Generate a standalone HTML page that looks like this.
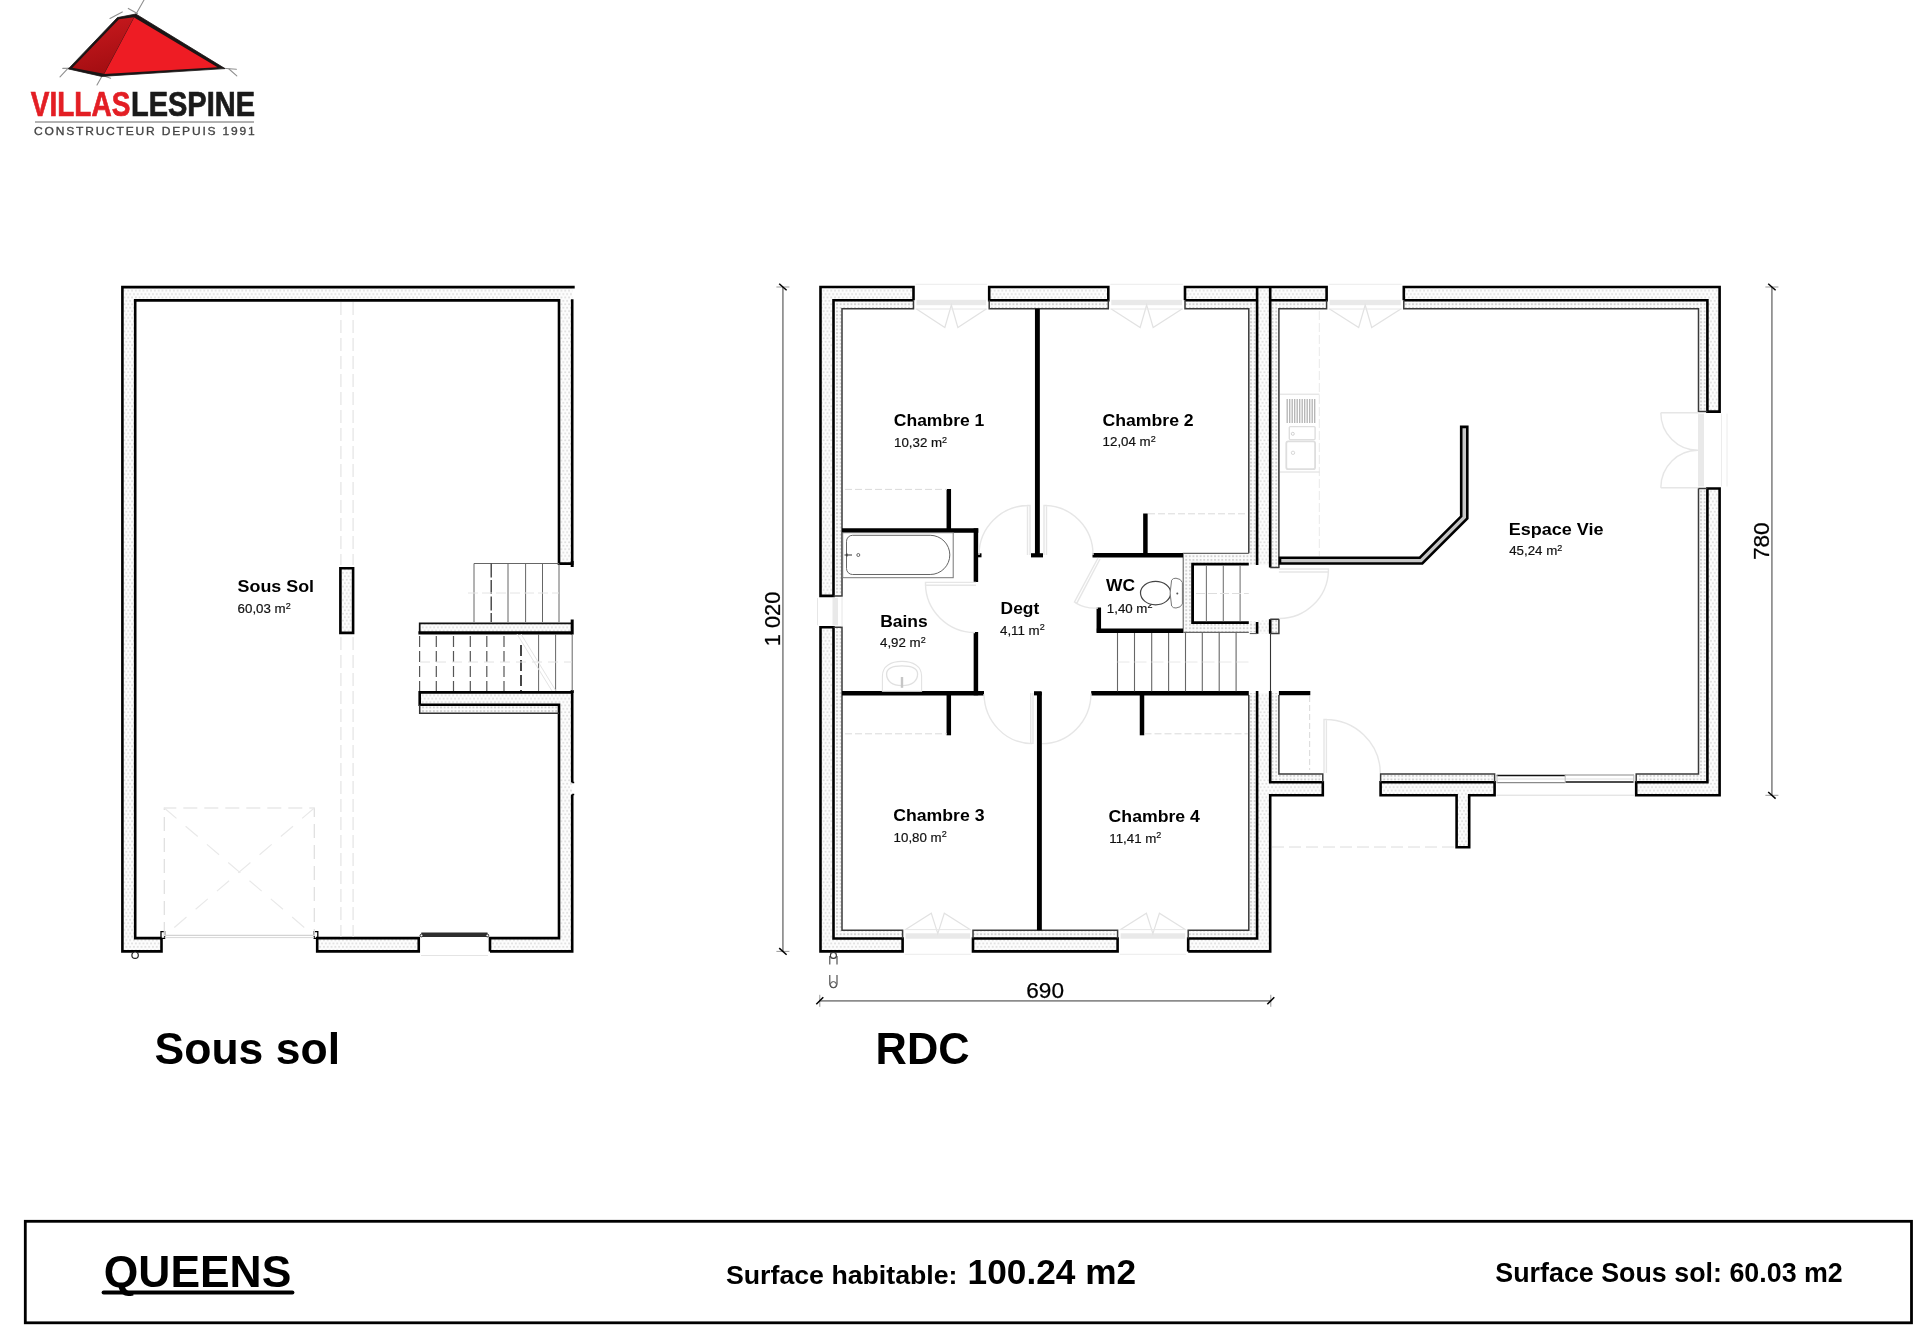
<!DOCTYPE html>
<html lang="fr"><head><meta charset="utf-8"><title>QUEENS - Villas Lespine</title>
<style>
html,body{margin:0;padding:0;background:#fff;}
body{width:1920px;height:1338px;overflow:hidden;}
svg{display:block;will-change:transform;font-family:"Liberation Sans",sans-serif;}
</style></head><body>
<svg width="1920" height="1338" viewBox="0 0 1920 1338">
<defs>
<pattern id="h" width="3.8" height="6.8" patternUnits="userSpaceOnUse">
<rect width="3.8" height="6.8" fill="#fdfdfd"/>
<circle cx="0.95" cy="1.7" r="0.9" fill="#d9d9d9"/><circle cx="2.85" cy="5.1" r="0.9" fill="#d9d9d9"/>
</pattern>
<pattern id="i" width="3.6" height="3.6" patternUnits="userSpaceOnUse">
<rect width="3.6" height="3.6" fill="#fcfcfc"/>
<rect x="0.9" y="0.9" width="1.9" height="1.9" fill="#d2d2d2"/>
</pattern>
<linearGradient id="gd" x1="0" y1="0" x2="0.3" y2="1"><stop offset="0" stop-color="#cc1a1f"/><stop offset="1" stop-color="#a50e12"/></linearGradient>
</defs>
<rect width="1920" height="1338" fill="#fff"/>

<g id="logo">
<line x1="144.00" y1="0.00" x2="135.50" y2="15.00" stroke="#909090" stroke-width="1.1" stroke-linecap="round"/>
<line x1="128.30" y1="8.40" x2="137.40" y2="13.50" stroke="#909090" stroke-width="1.1" stroke-linecap="round"/>
<line x1="110.00" y1="18.40" x2="122.30" y2="11.90" stroke="#909090" stroke-width="1.1" stroke-linecap="round"/>
<line x1="60.00" y1="76.80" x2="68.20" y2="68.20" stroke="#909090" stroke-width="1.1" stroke-linecap="round"/>
<line x1="62.80" y1="68.40" x2="72.00" y2="68.30" stroke="#909090" stroke-width="1.1" stroke-linecap="round"/>
<line x1="97.00" y1="85.00" x2="102.60" y2="75.00" stroke="#909090" stroke-width="1.1" stroke-linecap="round"/>
<line x1="101.00" y1="75.00" x2="110.60" y2="78.30" stroke="#909090" stroke-width="1.1" stroke-linecap="round"/>
<line x1="223.00" y1="68.30" x2="236.40" y2="69.30" stroke="#909090" stroke-width="1.1" stroke-linecap="round"/>
<line x1="229.00" y1="69.00" x2="236.80" y2="75.80" stroke="#909090" stroke-width="1.1" stroke-linecap="round"/>
<polygon points="135.8,14 117.4,17.6 68.3,68.9 101.6,76.4 225,68.6" fill="#1b1515" stroke="#1b1515" stroke-width="0.8" stroke-linejoin="round"/>
<polygon points="119,19.3 134,17.3 104,73.8 72.4,67.8" fill="url(#gd)"/>
<polygon points="134.2,17.4 104.2,73.9 217.5,67.3" fill="#ee1c24"/>
<text x="30.8" y="115.9" font-size="34.2" font-weight="bold" fill="#e31e24" textLength="99.5" lengthAdjust="spacingAndGlyphs" stroke="#e31e24" stroke-width="0.7">VILLAS</text>
<text x="131" y="115.9" font-size="34.2" font-weight="bold" fill="#1a1a1a" textLength="124" lengthAdjust="spacingAndGlyphs" stroke="#1a1a1a" stroke-width="0.7">LESPINE</text>
<line x1="35.00" y1="122.00" x2="254.00" y2="122.00" stroke="#999" stroke-width="1.3" />
<text x="34" y="134.6" font-size="10.3" fill="#444" textLength="222.5" lengthAdjust="spacingAndGlyphs" letter-spacing="1.55" stroke="#444" stroke-width="0.3">CONSTRUCTEUR DEPUIS 1991</text>
</g>
<g id="soussol">
<rect x="122.40" y="287.10" width="12.80" height="664.30" fill="url(#h)"/>
<rect x="122.40" y="287.10" width="449.80" height="13.30" fill="url(#h)"/>
<rect x="559.00" y="287.10" width="13.20" height="276.50" fill="url(#h)"/>
<rect x="122.40" y="938.10" width="39.10" height="13.30" fill="url(#h)"/>
<rect x="317.20" y="938.10" width="101.55" height="13.30" fill="url(#h)"/>
<rect x="490.00" y="938.10" width="82.20" height="13.30" fill="url(#h)"/>
<rect x="559.00" y="692.40" width="13.20" height="259.00" fill="url(#h)"/>
<rect x="419.70" y="623.20" width="152.50" height="9.30" fill="url(#h)"/>
<rect x="419.70" y="692.40" width="152.50" height="12.30" fill="url(#h)"/>
<rect x="419.70" y="704.70" width="139.30" height="8.60" fill="url(#i)"/>
<rect x="340.40" y="568.20" width="12.70" height="64.70" fill="url(#h)"/>
<path d="M161.5,938.1 V951.4 H122.4 V287.1 H574.7" fill="none" stroke="#000" stroke-width="2.6" />
<path d="M161.5,938.1 H135.2 V300.4 H559.0 V563.6 H572.2 V299.2" fill="none" stroke="#000" stroke-width="2.6" />
<path d="M317.2,938.1 H418.75 V951.4 H317.2 Z" fill="none" stroke="#000" stroke-width="2.6" />
<path d="M490,951.4 V938.1 H559.0 V704.7 H419.7 V692.4 H572.2 V782.5 M572.2,794.5 V951.4 H490" fill="none" stroke="#000" stroke-width="2.6" />
<path d="M572.2,782.5 h2 M572.2,794.5 h2" fill="none" stroke="#000" stroke-width="1.6" />
<path d="M572.2,690 v3" fill="none" stroke="#000" stroke-width="3" />
<path d="M419.7,704.7 V713.3 H559.0" fill="none" stroke="#333" stroke-width="1.5" />
<path d="M419.7,632.9 V623.4 H572.2" fill="none" stroke="#111" stroke-width="1.7" />
<path d="M418.4,632.9 H572.2" fill="none" stroke="#000" stroke-width="3.1" />
<path d="M572.2,619.5 V634.5" fill="none" stroke="#000" stroke-width="3" />
<path d="M572.2,561 V567" fill="none" stroke="#000" stroke-width="3" />
<path d="M340.4,568.2 H353.1 V632.9 H340.4 Z" fill="none" stroke="#000" stroke-width="2.6" />
<path d="M161,931.7 h3.6 v6.6 h-3.6 Z" fill="none" stroke="#000" stroke-width="1.3" />
<path d="M314.2,931.7 h3.6 v6.6 h-3.6 Z" fill="none" stroke="#000" stroke-width="1.3" />
<line x1="164.60" y1="935.30" x2="314.20" y2="935.30" stroke="#c8c8c8" stroke-width="1" />
<line x1="164.60" y1="937.60" x2="314.20" y2="937.60" stroke="#d8d8d8" stroke-width="1" />
<circle cx="135.1" cy="955.2" r="3.2" fill="#fff" stroke="#222" stroke-width="1.2"/>
<path d="M164.3,936 V808 H314.3 V936" fill="none" stroke="#dedede" stroke-width="1.2" stroke-dasharray="14 7"/>
<path d="M164.3,808 L314.3,936 M314.3,808 L164.3,936" fill="none" stroke="#e9e9e9" stroke-width="1.2" stroke-dasharray="16 12"/>
<line x1="340.90" y1="302.00" x2="340.90" y2="565.00" stroke="#e4e4e4" stroke-width="1.2" stroke-dasharray="13 5"/>
<line x1="340.90" y1="637.00" x2="340.90" y2="937.00" stroke="#e4e4e4" stroke-width="1.2" stroke-dasharray="13 5"/>
<line x1="353.10" y1="302.00" x2="353.10" y2="565.00" stroke="#e4e4e4" stroke-width="1.2" stroke-dasharray="13 5"/>
<line x1="353.10" y1="637.00" x2="353.10" y2="937.00" stroke="#e4e4e4" stroke-width="1.2" stroke-dasharray="13 5"/>
<line x1="421.30" y1="934.70" x2="487.50" y2="934.70" stroke="#2e2e2e" stroke-width="4.4" />
<circle cx="421.5" cy="935.5" r="1.4" fill="#fff" stroke="#222" stroke-width="1"/><circle cx="487.3" cy="935.5" r="1.4" fill="#fff" stroke="#222" stroke-width="1"/>
<line x1="421.00" y1="955.50" x2="488.00" y2="955.50" stroke="#e4e4e4" stroke-width="1" />
<path d="M474,622 V563.5 H559" fill="none" stroke="#666" stroke-width="1" />
<line x1="508.00" y1="563.50" x2="508.00" y2="622.00" stroke="#666" stroke-width="1" />
<line x1="525.60" y1="563.50" x2="525.60" y2="622.00" stroke="#666" stroke-width="1" />
<line x1="542.50" y1="563.50" x2="542.50" y2="622.00" stroke="#666" stroke-width="1" />
<line x1="559.00" y1="563.50" x2="559.00" y2="622.00" stroke="#666" stroke-width="1" />
<line x1="491.20" y1="563.50" x2="491.20" y2="622.00" stroke="#333" stroke-width="1.3" stroke-dasharray="14 2.5"/>
<line x1="468.00" y1="593.00" x2="559.00" y2="593.00" stroke="#e4e4e4" stroke-width="1" stroke-dasharray="10 4"/>
<line x1="419.60" y1="636.00" x2="419.60" y2="691.00" stroke="#555" stroke-width="1.2" stroke-dasharray="11 4"/>
<line x1="436.30" y1="636.00" x2="436.30" y2="691.00" stroke="#555" stroke-width="1.2" stroke-dasharray="11 4"/>
<line x1="453.50" y1="636.00" x2="453.50" y2="691.00" stroke="#555" stroke-width="1.2" stroke-dasharray="11 4"/>
<line x1="470.30" y1="636.00" x2="470.30" y2="691.00" stroke="#555" stroke-width="1.2" stroke-dasharray="11 4"/>
<line x1="486.80" y1="636.00" x2="486.80" y2="691.00" stroke="#555" stroke-width="1.2" stroke-dasharray="11 4"/>
<line x1="504.00" y1="636.00" x2="504.00" y2="691.00" stroke="#555" stroke-width="1.2" stroke-dasharray="11 4"/>
<line x1="521.00" y1="645.00" x2="521.00" y2="691.00" stroke="#333" stroke-width="1.8" stroke-dasharray="11 4"/>
<line x1="538.60" y1="634.00" x2="538.60" y2="691.00" stroke="#666" stroke-width="1" />
<line x1="555.60" y1="634.00" x2="555.60" y2="691.00" stroke="#666" stroke-width="1" />
<line x1="572.20" y1="634.00" x2="572.20" y2="691.00" stroke="#666" stroke-width="1" />
<line x1="420.00" y1="662.00" x2="572.00" y2="662.00" stroke="#e2e2e2" stroke-width="1" stroke-dasharray="10 6"/>
<path d="M521,634 L556,691 M517,634 L552,691" fill="none" stroke="#e4e4e4" stroke-width="1" />
<text x="237.6" y="592.3" font-size="17.4" font-weight="bold" fill="#000" textLength="76.5" lengthAdjust="spacingAndGlyphs" >Sous Sol</text>
<text x="237.6" y="613.3" font-size="13.3" fill="#111" stroke="#111" stroke-width="0.2">60,03 m<tspan font-size="9.0" dy="-4.4">2</tspan></text>
</g>
<g id="rdc">
<rect x="820.50" y="287.00" width="93.00" height="13.30" fill="url(#h)"/>
<rect x="989.20" y="287.00" width="119.10" height="13.30" fill="url(#h)"/>
<rect x="1185.00" y="287.00" width="141.60" height="13.30" fill="url(#h)"/>
<rect x="1403.80" y="287.00" width="315.80" height="13.30" fill="url(#h)"/>
<rect x="820.50" y="287.00" width="13.00" height="308.90" fill="url(#h)"/>
<rect x="820.50" y="627.30" width="13.00" height="324.10" fill="url(#h)"/>
<rect x="820.50" y="938.50" width="82.10" height="12.90" fill="url(#h)"/>
<rect x="973.00" y="938.50" width="144.60" height="12.90" fill="url(#h)"/>
<rect x="1188.20" y="938.50" width="82.00" height="12.90" fill="url(#h)"/>
<rect x="1257.10" y="287.00" width="13.10" height="278.00" fill="url(#h)"/>
<rect x="1257.10" y="620.50" width="13.10" height="13.00" fill="url(#h)"/>
<rect x="1257.10" y="693.00" width="13.10" height="258.40" fill="url(#h)"/>
<rect x="1707.40" y="287.00" width="12.20" height="124.60" fill="url(#h)"/>
<rect x="1707.40" y="488.50" width="12.20" height="306.70" fill="url(#h)"/>
<rect x="1270.20" y="782.20" width="52.60" height="13.00" fill="url(#h)"/>
<rect x="1380.60" y="782.20" width="114.00" height="13.00" fill="url(#h)"/>
<rect x="1636.20" y="782.20" width="83.40" height="13.00" fill="url(#h)"/>
<rect x="1456.60" y="795.20" width="12.60" height="52.00" fill="url(#h)"/>
<rect x="833.50" y="300.30" width="80.00" height="8.40" fill="url(#i)"/>
<rect x="989.20" y="300.30" width="119.10" height="8.40" fill="url(#i)"/>
<rect x="1185.00" y="300.30" width="72.10" height="8.40" fill="url(#i)"/>
<rect x="833.50" y="300.30" width="8.50" height="295.60" fill="url(#i)"/>
<rect x="833.50" y="627.30" width="8.50" height="311.20" fill="url(#i)"/>
<rect x="833.50" y="930.30" width="69.10" height="8.20" fill="url(#i)"/>
<rect x="973.00" y="930.30" width="144.60" height="8.20" fill="url(#i)"/>
<rect x="1188.20" y="930.30" width="68.90" height="8.20" fill="url(#i)"/>
<rect x="1248.80" y="300.30" width="8.30" height="264.70" fill="url(#i)"/>
<rect x="1248.80" y="693.00" width="8.30" height="245.50" fill="url(#i)"/>
<rect x="1248.80" y="621.50" width="8.30" height="10.80" fill="url(#i)"/>
<rect x="1270.20" y="300.30" width="8.70" height="267.20" fill="url(#i)"/>
<rect x="1270.20" y="619.30" width="8.70" height="14.20" fill="url(#i)"/>
<rect x="1270.20" y="693.00" width="8.70" height="89.20" fill="url(#i)"/>
<rect x="1270.20" y="300.30" width="56.40" height="8.40" fill="url(#i)"/>
<rect x="1403.80" y="300.30" width="303.60" height="8.40" fill="url(#i)"/>
<rect x="1698.50" y="300.30" width="8.90" height="111.30" fill="url(#i)"/>
<rect x="1698.50" y="488.50" width="8.90" height="293.70" fill="url(#i)"/>
<rect x="1270.20" y="774.00" width="52.60" height="8.20" fill="url(#i)"/>
<rect x="1380.60" y="774.00" width="114.00" height="8.20" fill="url(#i)"/>
<rect x="1636.20" y="774.00" width="71.20" height="8.20" fill="url(#i)"/>
<rect x="1183.00" y="553.30" width="65.80" height="10.20" fill="url(#i)"/>
<rect x="1183.00" y="553.30" width="8.20" height="79.00" fill="url(#i)"/>
<rect x="1183.00" y="623.50" width="65.80" height="8.80" fill="url(#i)"/>
<path d="M913.5,300.3 V287.0 H820.5 V595.9 H833.5 V300.3 H913.5" fill="none" stroke="#000" stroke-width="2.6" />
<path d="M989.2,287.0 H1108.3 V300.3 H989.2 Z" fill="none" stroke="#000" stroke-width="2.6" />
<path d="M1185.0,300.3 V287.0 H1326.6 V300.3 H1270.2 M1257.1,300.3 H1185.0" fill="none" stroke="#000" stroke-width="2.6" />
<path d="M1403.8,300.3 V287.0 H1719.6 V411.6 H1707.4 V300.3 H1403.8" fill="none" stroke="#000" stroke-width="2.6" />
<path d="M1257.1,287.0 V565 M1270.2,287.0 V567.6" fill="none" stroke="#000" stroke-width="2.6" />
<path d="M1257.1,622 V633.7 M1270.2,619.2 V633.7" fill="none" stroke="#000" stroke-width="2.6" />
<line x1="1270.50" y1="633.70" x2="1270.50" y2="691.00" stroke="#333" stroke-width="1.1" />
<path d="M820.5,627.3 H833.5 V938.5 H902.6 V951.4 H820.5 Z" fill="none" stroke="#000" stroke-width="2.6" />
<path d="M973.0,938.5 H1117.6 V951.4 H973.0 Z" fill="none" stroke="#000" stroke-width="2.6" />
<path d="M1188.2,951.4 V938.5 H1257.1 V691 M1270.2,691 V782.2 H1322.8 V795.2 H1270.2 V951.4 H1188.2" fill="none" stroke="#000" stroke-width="2.6" />
<path d="M1380.6,782.2 H1494.6 V795.2 H1469.2 V847.2 H1456.6 V795.2 H1380.6 Z" fill="none" stroke="#000" stroke-width="2.6" />
<path d="M1636.2,795.2 V782.2 H1707.4 V488.5 H1719.6 V795.2 Z" fill="none" stroke="#000" stroke-width="2.6" />
<path d="M913.5,300.3 V308.7 H842.0 V595.9 H833.5" fill="none" stroke="#3a3a3a" stroke-width="1.5" />
<path d="M989.2,300.3 V308.7 H1108.3 V300.3" fill="none" stroke="#3a3a3a" stroke-width="1.5" />
<path d="M1185.0,300.3 V308.7 H1248.8 V553.3" fill="none" stroke="#3a3a3a" stroke-width="1.5" />
<path d="M833.5,627.3 H842.0 V930.3 H902.6 V938.5" fill="none" stroke="#3a3a3a" stroke-width="1.5" />
<path d="M973.0,938.5 V930.3 H1117.6 V938.5" fill="none" stroke="#3a3a3a" stroke-width="1.5" />
<path d="M1188.2,938.5 V930.3 H1248.8 V695" fill="none" stroke="#3a3a3a" stroke-width="1.5" />
<path d="M1326.6,300.3 V308.7 H1278.9 V567.6 H1270.2" fill="none" stroke="#3a3a3a" stroke-width="1.5" />
<path d="M1403.8,300.3 V308.7 H1698.5 V411.6 H1707.4" fill="none" stroke="#3a3a3a" stroke-width="1.5" />
<path d="M1707.4,488.5 H1698.5 V774.0 H1636.2 V782.2" fill="none" stroke="#3a3a3a" stroke-width="1.5" />
<path d="M1494.6,782.2 V774.0 H1380.6 V782.2" fill="none" stroke="#3a3a3a" stroke-width="1.5" />
<path d="M1322.8,782.2 V774.0 H1278.9 V695" fill="none" stroke="#3a3a3a" stroke-width="1.5" />
<path d="M1270.2,619.3 H1278.9 V633.6 H1270.2" fill="none" stroke="#3a3a3a" stroke-width="1.5" />
<path d="M1257.1,633.6 H1249.8" fill="none" stroke="#555" stroke-width="1.0" />
<path d="M1248.8,553.4 H1183.2 V632.4 H1248.8" fill="none" stroke="#666" stroke-width="1.1" />
<path d="M1037.4,308.7 V556" fill="none" stroke="#000" stroke-width="4.9" stroke-linecap="butt"/>
<path d="M1031,555.3 H1043" fill="none" stroke="#000" stroke-width="4.2" stroke-linecap="butt"/>
<path d="M948.8,489 V530.5" fill="none" stroke="#000" stroke-width="4.5" stroke-linecap="butt"/>
<path d="M842.0,530.5 H978.3" fill="none" stroke="#000" stroke-width="4.5" stroke-linecap="butt"/>
<path d="M975.9,528.3 V582" fill="none" stroke="#000" stroke-width="4.5" stroke-linecap="butt"/>
<path d="M976,555.3 H981.5" fill="none" stroke="#000" stroke-width="4" stroke-linecap="butt"/>
<path d="M975.9,632 V695.3" fill="none" stroke="#000" stroke-width="4.5" stroke-linecap="butt"/>
<path d="M842.0,693.3 H984" fill="none" stroke="#000" stroke-width="4.5" stroke-linecap="butt"/>
<path d="M948.8,693 V735.3" fill="none" stroke="#000" stroke-width="4.5" stroke-linecap="butt"/>
<path d="M1039.4,692 V930.3" fill="none" stroke="#000" stroke-width="4.9" stroke-linecap="butt"/>
<path d="M1034,693.3 H1041.6" fill="none" stroke="#000" stroke-width="4.2" stroke-linecap="butt"/>
<path d="M1092.5,555.3 H1183" fill="none" stroke="#000" stroke-width="4.5" stroke-linecap="butt"/>
<path d="M1145.4,513.5 V555.3" fill="none" stroke="#000" stroke-width="4.5" stroke-linecap="butt"/>
<path d="M1098.8,607.5 V632.8" fill="none" stroke="#000" stroke-width="4.5" stroke-linecap="butt"/>
<path d="M1096.8,630.8 H1183" fill="none" stroke="#000" stroke-width="4.5" stroke-linecap="butt"/>
<path d="M1091.2,693.3 H1248.8" fill="none" stroke="#000" stroke-width="4.5" stroke-linecap="butt"/>
<path d="M1142,693 V735.3" fill="none" stroke="#000" stroke-width="4.5" stroke-linecap="butt"/>
<path d="M1278.9,693.2 H1310.3" fill="none" stroke="#000" stroke-width="4.2" stroke-linecap="butt"/>
<path d="M1248.8,564.2 H1192.6 V622.6 H1248.8" fill="none" stroke="#000" stroke-width="2.8" />
<line x1="1206.40" y1="565.50" x2="1206.40" y2="621.30" stroke="#777" stroke-width="1.1" />
<line x1="1223.30" y1="565.50" x2="1223.30" y2="621.30" stroke="#777" stroke-width="1.1" />
<line x1="1240.10" y1="565.50" x2="1240.10" y2="621.30" stroke="#777" stroke-width="1.1" />
<line x1="1196.00" y1="593.50" x2="1248.80" y2="593.50" stroke="#ddd" stroke-width="1" stroke-dasharray="9 3"/>
<line x1="1117.50" y1="633.00" x2="1117.50" y2="691.30" stroke="#666" stroke-width="1.1" />
<line x1="1134.50" y1="633.00" x2="1134.50" y2="691.30" stroke="#666" stroke-width="1.1" />
<line x1="1151.70" y1="633.00" x2="1151.70" y2="691.30" stroke="#666" stroke-width="1.1" />
<line x1="1168.60" y1="633.00" x2="1168.60" y2="691.30" stroke="#666" stroke-width="1.1" />
<line x1="1185.50" y1="633.00" x2="1185.50" y2="691.30" stroke="#666" stroke-width="1.1" />
<line x1="1202.30" y1="633.00" x2="1202.30" y2="691.30" stroke="#666" stroke-width="1.1" />
<line x1="1219.20" y1="633.00" x2="1219.20" y2="691.30" stroke="#666" stroke-width="1.1" />
<line x1="1236.10" y1="633.00" x2="1236.10" y2="691.30" stroke="#666" stroke-width="1.1" />
<line x1="1117.50" y1="662.00" x2="1250.00" y2="662.00" stroke="#e8e8e8" stroke-width="1" stroke-dasharray="12 5"/>
<line x1="845.00" y1="489.40" x2="947.00" y2="489.40" stroke="#dadada" stroke-width="1" stroke-dasharray="7 3"/>
<line x1="1148.00" y1="513.80" x2="1247.80" y2="513.80" stroke="#dadada" stroke-width="1" stroke-dasharray="7 3"/>
<line x1="845.00" y1="733.80" x2="947.00" y2="733.80" stroke="#dadada" stroke-width="1" stroke-dasharray="7 3"/>
<line x1="1144.50" y1="733.80" x2="1247.80" y2="733.80" stroke="#dadada" stroke-width="1" stroke-dasharray="7 3"/>
<line x1="1319.30" y1="311.00" x2="1319.30" y2="556.00" stroke="#e9e9e9" stroke-width="1" stroke-dasharray="9 3"/>
<line x1="1309.60" y1="696.00" x2="1309.60" y2="770.00" stroke="#dedede" stroke-width="1.2" stroke-dasharray="6 3"/>
<line x1="1272.00" y1="847.00" x2="1455.00" y2="847.00" stroke="#dcdcdc" stroke-width="1" stroke-dasharray="12 5"/>
<path d="M1027.5,555 V505.5 h2.5 V555 M1028.5,505.5 A49.5,49.5 0 0 0 979,555" fill="none" stroke="#e6e6e6" stroke-width="1.4" />
<path d="M1044,555 V505.5 h2.5 V555 M1045.5,505.5 A49,49 0 0 1 1093,555" fill="none" stroke="#e6e6e6" stroke-width="1.4" />
<path d="M976,582.4 H925.5 v2.8 H976 M925.5,584 A50,49 0 0 0 975,632.5" fill="none" stroke="#e6e6e6" stroke-width="1.4" />
<path d="M1033,693 V743.4 h-2.3 V693 M1032,743.6 A48,50.5 0 0 1 984,694" fill="none" stroke="#e6e6e6" stroke-width="1.4" />
<path d="M1042,743.6 A49,50.5 0 0 0 1091,693.5" fill="none" stroke="#e6e6e6" stroke-width="1.4" />
<path d="M1098,558 L1074.5,602 l2.3,1.2 L1100,559 M1075.5,602.8 Q1086,609 1098,608" fill="none" stroke="#e6e6e6" stroke-width="1.4" />
<path d="M1278.9,569 H1328.4 v3 H1278.9 M1328.4,571 A49,49 0 0 1 1278.9,618.5" fill="none" stroke="#e6e6e6" stroke-width="1.4" />
<path d="M1324,773 V719.5 h2.4 V773 M1325,719.5 A55,54 0 0 1 1380.3,773" fill="none" stroke="#e6e6e6" stroke-width="1.4" />
<path d="M1698.5,412.8 H1660.8 M1660.8,412.8 A37,37.5 0 0 0 1698.5,450.3 M1698.5,487.7 H1660.8 M1660.8,487.7 A37,37.5 0 0 1 1698.5,450.3" fill="none" stroke="#e6e6e6" stroke-width="1.4" />
<rect x="916.5" y="299.8" width="69.7" height="5.4" fill="#e9e9e9"/>
<path d="M916.5,309 L944.85,327.5 L951.35,305 L957.85,327.5 L986.2,309" fill="none" stroke="#e2e2e2" stroke-width="1.2" />
<line x1="915.50" y1="309.00" x2="987.20" y2="309.00" stroke="#e6e6e6" stroke-width="1" />
<line x1="915.50" y1="284.30" x2="987.20" y2="284.30" stroke="#ececec" stroke-width="1" />
<rect x="1111.3" y="299.8" width="70.7" height="5.4" fill="#e9e9e9"/>
<path d="M1111.3,309 L1140.15,327.5 L1146.65,305 L1153.15,327.5 L1182.0,309" fill="none" stroke="#e2e2e2" stroke-width="1.2" />
<line x1="1110.30" y1="309.00" x2="1183.00" y2="309.00" stroke="#e6e6e6" stroke-width="1" />
<line x1="1110.30" y1="284.30" x2="1183.00" y2="284.30" stroke="#ececec" stroke-width="1" />
<rect x="1329.6" y="299.8" width="71.2" height="5.4" fill="#e9e9e9"/>
<path d="M1329.6,309 L1358.6999999999998,327.5 L1365.1999999999998,305 L1371.6999999999998,327.5 L1400.8,309" fill="none" stroke="#e2e2e2" stroke-width="1.2" />
<line x1="1328.60" y1="309.00" x2="1401.80" y2="309.00" stroke="#e6e6e6" stroke-width="1" />
<line x1="1328.60" y1="284.30" x2="1401.80" y2="284.30" stroke="#ececec" stroke-width="1" />
<rect x="905.6" y="933.3" width="64.4" height="5.4" fill="#e9e9e9"/>
<path d="M905.6,929.6 L931.3,913.2 L937.8,933.6 L944.3,913.2 L970.0,929.6" fill="none" stroke="#e2e2e2" stroke-width="1.2" />
<line x1="904.60" y1="929.60" x2="971.00" y2="929.60" stroke="#e6e6e6" stroke-width="1" />
<line x1="904.60" y1="954.30" x2="971.00" y2="954.30" stroke="#ececec" stroke-width="1" />
<rect x="1120.6" y="933.3" width="64.6" height="5.4" fill="#e9e9e9"/>
<path d="M1120.6,929.6 L1146.4,913.2 L1152.9,933.6 L1159.4,913.2 L1185.2,929.6" fill="none" stroke="#e2e2e2" stroke-width="1.2" />
<line x1="1119.60" y1="929.60" x2="1186.20" y2="929.60" stroke="#e6e6e6" stroke-width="1" />
<line x1="1119.60" y1="954.30" x2="1186.20" y2="954.30" stroke="#ececec" stroke-width="1" />
<rect x="832.5" y="597.9" width="5.5" height="27.399999999999977" fill="#e9e9e9"/>
<path d="M817.5,597.9 V625.3 M842.0,596.9 V626.3" fill="none" stroke="#e6e6e6" stroke-width="1" />
<rect x="1698.0" y="413.6" width="6" height="72.89999999999998" fill="#e9e9e9"/>
<path d="M1721.5,413.6 V486.5 M1727,413.6 V486.5" fill="none" stroke="#ececec" stroke-width="1" />
<line x1="1496.60" y1="775.50" x2="1565.30" y2="775.50" stroke="#111" stroke-width="1.7" />
<line x1="1496.60" y1="782.60" x2="1565.30" y2="782.60" stroke="#8a8a8a" stroke-width="1.1" />
<line x1="1565.00" y1="775.00" x2="1634.00" y2="775.00" stroke="#8a8a8a" stroke-width="1.1" />
<line x1="1565.00" y1="782.00" x2="1634.00" y2="782.00" stroke="#111" stroke-width="1.7" />
<line x1="1498.00" y1="779.00" x2="1633.00" y2="779.00" stroke="#dedede" stroke-width="1" />
<path d="M1497,775 V783 M1633.8,775 V783 M1565.2,775 V783" fill="none" stroke="#bbb" stroke-width="1" />
<line x1="1496.60" y1="795.20" x2="1634.20" y2="795.20" stroke="#dadada" stroke-width="1" />
<path d="M1280,557.7 H1419.8 L1461.2,516.3 V426.9 H1467.3 V518.5 L1422.3,563.5 H1280 Z" fill="#c6c6c6" stroke="#000" stroke-width="2.6" stroke-linejoin="miter"/>
<path d="M1280,394.2 H1319.5 M1280,472 H1319.5" fill="none" stroke="#dcdcdc" stroke-width="1" />
<line x1="1287.20" y1="399.00" x2="1287.20" y2="423.00" stroke="#b4b4b4" stroke-width="1.3" />
<line x1="1289.70" y1="399.00" x2="1289.70" y2="423.00" stroke="#b4b4b4" stroke-width="1.3" />
<line x1="1292.20" y1="399.00" x2="1292.20" y2="423.00" stroke="#b4b4b4" stroke-width="1.3" />
<line x1="1294.70" y1="399.00" x2="1294.70" y2="423.00" stroke="#b4b4b4" stroke-width="1.3" />
<line x1="1297.20" y1="399.00" x2="1297.20" y2="423.00" stroke="#b4b4b4" stroke-width="1.3" />
<line x1="1299.70" y1="399.00" x2="1299.70" y2="423.00" stroke="#b4b4b4" stroke-width="1.3" />
<line x1="1302.20" y1="399.00" x2="1302.20" y2="423.00" stroke="#b4b4b4" stroke-width="1.3" />
<line x1="1304.70" y1="399.00" x2="1304.70" y2="423.00" stroke="#b4b4b4" stroke-width="1.3" />
<line x1="1307.20" y1="399.00" x2="1307.20" y2="423.00" stroke="#b4b4b4" stroke-width="1.3" />
<line x1="1309.70" y1="399.00" x2="1309.70" y2="423.00" stroke="#b4b4b4" stroke-width="1.3" />
<line x1="1312.20" y1="399.00" x2="1312.20" y2="423.00" stroke="#b4b4b4" stroke-width="1.3" />
<line x1="1314.70" y1="399.00" x2="1314.70" y2="423.00" stroke="#b4b4b4" stroke-width="1.3" />
<rect x="1289.3" y="426.6" width="25.8" height="13" rx="1" fill="none" stroke="#dedede" stroke-width="1.4"/>
<rect x="1286.3" y="441.4" width="28.8" height="27.8" rx="2" fill="none" stroke="#dedede" stroke-width="1.8"/>
<circle cx="1292.8" cy="433.8" r="1.5" fill="none" stroke="#ccc" stroke-width="0.9"/><circle cx="1293" cy="452.8" r="1.7" fill="none" stroke="#d4d4d4" stroke-width="0.9"/>
<rect x="842.7" y="532.7" width="110.5" height="45" fill="none" stroke="#777" stroke-width="1"/>
<path d="M852.5,535.3 H930.2 A19.6,19.6 0 0 1 930.2,574.5 H852.5 A6,6 0 0 1 846.5,568.5 V541.3 A6,6 0 0 1 852.5,535.3 Z" fill="none" stroke="#666" stroke-width="1"/>
<circle cx="858.3" cy="555" r="1.5" fill="none" stroke="#444" stroke-width="0.8"/>
<path d="M844.5,555 h7.5 M847,553.6 v2.8" fill="none" stroke="#333" stroke-width="1.1" />
<path d="M882.4,691.2 V676 C882.4,666 891,661.4 902,661.4 C913,661.4 921.6,666 921.6,676 V691.2 Z" fill="#fff" stroke="#e2e2e2" stroke-width="1.1"/>
<path d="M886.6,674 C886.6,667.5 893,665.8 902,665.8 C911,665.8 917.6,667.5 917.6,674 C917.6,681 912,685.6 902,685.6 C892,685.6 886.6,681 886.6,674 Z" fill="none" stroke="#e0e0e0" stroke-width="1.3"/>
<line x1="902.00" y1="677.00" x2="902.00" y2="687.80" stroke="#c6c6c6" stroke-width="2.4" />
<text x="893.8" y="426.3" font-size="17.4" font-weight="bold" fill="#000" textLength="90.5" lengthAdjust="spacingAndGlyphs" >Chambre 1</text>
<text x="894" y="447.2" font-size="13.3" fill="#111" stroke="#111" stroke-width="0.2">10,32 m<tspan font-size="9.0" dy="-4.4">2</tspan></text>
<text x="1102.4" y="426" font-size="17.4" font-weight="bold" fill="#000" textLength="91.3" lengthAdjust="spacingAndGlyphs" >Chambre 2</text>
<text x="1102.6" y="446.2" font-size="13.3" fill="#111" stroke="#111" stroke-width="0.2">12,04 m<tspan font-size="9.0" dy="-4.4">2</tspan></text>
<text x="893.2" y="820.9" font-size="17.4" font-weight="bold" fill="#000" textLength="91.3" lengthAdjust="spacingAndGlyphs" >Chambre 3</text>
<text x="893.6" y="841.7" font-size="13.3" fill="#111" stroke="#111" stroke-width="0.2">10,80 m<tspan font-size="9.0" dy="-4.4">2</tspan></text>
<text x="1108.6" y="822.3" font-size="17.4" font-weight="bold" fill="#000" textLength="91.3" lengthAdjust="spacingAndGlyphs" >Chambre 4</text>
<text x="1109.3" y="842.6" font-size="13.3" fill="#111" stroke="#111" stroke-width="0.2">11,41 m<tspan font-size="9.0" dy="-4.4">2</tspan></text>
<text x="880.2" y="627.1" font-size="17.4" font-weight="bold" fill="#000" textLength="47.5" lengthAdjust="spacingAndGlyphs" >Bains</text>
<text x="880" y="647" font-size="13.3" fill="#111" stroke="#111" stroke-width="0.2">4,92 m<tspan font-size="9.0" dy="-4.4">2</tspan></text>
<text x="1000.6" y="614.2" font-size="17.4" font-weight="bold" fill="#000" >Degt</text>
<text x="1000" y="634.5" font-size="13.3" fill="#111" stroke="#111" stroke-width="0.2">4,11 m<tspan font-size="9.0" dy="-4.4">2</tspan></text>
<text x="1106" y="591.2" font-size="17.4" font-weight="bold" fill="#000" >WC</text>
<text x="1106.8" y="612.5" font-size="13.3" fill="#111" stroke="#111" stroke-width="0.2">1,40 m<tspan font-size="9.0" dy="-4.4">2</tspan></text>
<text x="1508.7" y="535" font-size="17.4" font-weight="bold" fill="#000" textLength="94.8" lengthAdjust="spacingAndGlyphs" >Espace Vie</text>
<text x="1509.2" y="555" font-size="13.3" fill="#111" stroke="#111" stroke-width="0.2">45,24 m<tspan font-size="9.0" dy="-4.4">2</tspan></text>
<ellipse cx="1155.6" cy="593.1" rx="15.1" ry="11.7" fill="#fff" stroke="#444" stroke-width="1.2"/>
<path d="M1171.6,580.2 Q1173,578 1176,578.2 Q1181,578.6 1182.4,582.5 V604 Q1181,607.6 1176,608 Q1173,608.2 1171.6,606 Q1168.6,593 1171.6,580.2 Z" fill="#fff" stroke="#777" stroke-width="1"/>
<circle cx="1177.3" cy="593.5" r="1" fill="#555"/>
<line x1="782.90" y1="286.80" x2="782.90" y2="951.60" stroke="#8c8c8c" stroke-width="1.7" />
<line x1="1771.90" y1="286.80" x2="1771.90" y2="795.50" stroke="#8c8c8c" stroke-width="1.7" />
<line x1="819.50" y1="1000.80" x2="1271.00" y2="1000.80" stroke="#8c8c8c" stroke-width="1.7" />
<line x1="776.40" y1="287.00" x2="789.40" y2="287.00" stroke="#999" stroke-width="1" />
<line x1="779.20" y1="283.70" x2="786.60" y2="290.30" stroke="#000" stroke-width="1.5" />
<line x1="776.40" y1="951.40" x2="789.40" y2="951.40" stroke="#999" stroke-width="1" />
<line x1="779.20" y1="948.10" x2="786.60" y2="954.70" stroke="#000" stroke-width="1.5" />
<line x1="1765.40" y1="287.00" x2="1778.40" y2="287.00" stroke="#999" stroke-width="1" />
<line x1="1768.20" y1="283.70" x2="1775.60" y2="290.30" stroke="#000" stroke-width="1.5" />
<line x1="1765.40" y1="795.30" x2="1778.40" y2="795.30" stroke="#999" stroke-width="1" />
<line x1="1768.20" y1="792.00" x2="1775.60" y2="798.60" stroke="#000" stroke-width="1.5" />
<line x1="819.80" y1="994.80" x2="819.80" y2="1006.80" stroke="#999" stroke-width="1" />
<line x1="816.30" y1="1004.30" x2="823.30" y2="997.30" stroke="#000" stroke-width="1.5" />
<line x1="1270.80" y1="994.80" x2="1270.80" y2="1006.80" stroke="#999" stroke-width="1" />
<line x1="1267.30" y1="1004.30" x2="1274.30" y2="997.30" stroke="#000" stroke-width="1.5" />
<text x="1026.3" y="998" font-size="22.6" fill="#000" stroke="#000" stroke-width="0.25">690</text>
<text transform="translate(779.6,646.3) rotate(-90)" font-size="22.4" fill="#000" textLength="54.6" lengthAdjust="spacingAndGlyphs" stroke="#000" stroke-width="0.25">1 020</text>
<text transform="translate(1768.9,560.1) rotate(-90)" font-size="22.6" fill="#000" stroke="#000" stroke-width="0.25">780</text>
<path d="M829.8,956 V964.5 M837,956 V964.5 M829.8,975 V984 A3.6,3.6 0 0 0 837,984 V975" fill="none" stroke="#444" stroke-width="1.1" />
<circle cx="833.4" cy="955.4" r="3" fill="#fff" stroke="#333" stroke-width="1.1"/><circle cx="833.4" cy="984.6" r="3" fill="#fff" stroke="#444" stroke-width="1"/>
</g>
<text x="154.5" y="1064" font-size="44.5" font-weight="bold" fill="#000" textLength="185.5" lengthAdjust="spacingAndGlyphs" >Sous sol</text>
<text x="875.6" y="1064" font-size="44.5" font-weight="bold" fill="#000" textLength="94" lengthAdjust="spacingAndGlyphs" >RDC</text>
<rect x="25.3" y="1221.3" width="1886.2" height="101.5" fill="none" stroke="#000" stroke-width="2.8"/>
<text x="103.8" y="1287.3" font-size="44.5" font-weight="bold" fill="#000" textLength="187.5" lengthAdjust="spacingAndGlyphs" >QUEENS</text>
<line x1="103.60" y1="1292.40" x2="292.40" y2="1292.40" stroke="#000" stroke-width="4" stroke-linecap="round"/>
<text x="726" y="1284" font-size="26.7" font-weight="bold" fill="#000" textLength="231.5" lengthAdjust="spacingAndGlyphs" >Surface habitable:</text>
<text x="967.6" y="1284" font-size="34.8" font-weight="bold" fill="#000" textLength="168.5" lengthAdjust="spacingAndGlyphs" >100.24 m2</text>
<text x="1495.3" y="1281.7" font-size="26.8" font-weight="bold" fill="#000" textLength="347.5" lengthAdjust="spacingAndGlyphs" >Surface Sous sol: 60.03 m2</text>
</svg></body></html>
